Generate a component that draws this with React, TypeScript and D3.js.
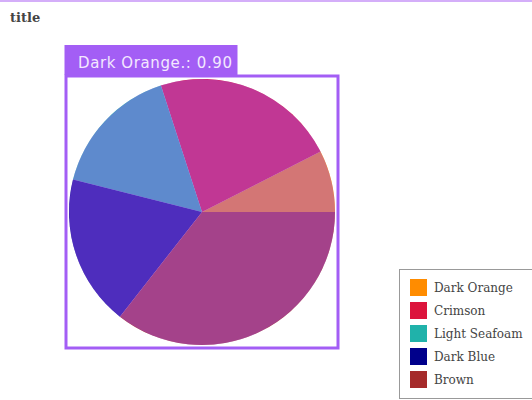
import React from 'react';
import * as d3 from 'd3';

// chart data
const categories = ['Dark Orange', 'Crimson', 'Light Seafoam', 'Dark Blue', 'Brown'];
const values = [0.9, 2.7, 1.93, 2.2, 4.27];
const colors = ['#ff8c00', '#dc143c', '#20b2aa', '#00008b', '#a52a2a'];
const hovered = 0;

const App = () => {
  const width = 532;
  const height = 400;

  // pie geometry
  const cx = 202;
  const cy = 212;
  const radius = 133;

  const data = categories.map((c, i) => ({ name: c, value: values[i], color: colors[i] }));

  // counter-clockwise from 3 o'clock
  const pie = d3.pie<any>()
    .value(d => d.value)
    .sort(null)
    .startAngle(Math.PI / 2)
    .endAngle(Math.PI / 2 - 2 * Math.PI);

  const arc = d3.arc<any>().innerRadius(0).outerRadius(radius);
  const arcs = pie(data);

  const highlight = '#a35ef5';
  const pad = 3;
  const label = `${categories[hovered]}.: ${values[hovered].toFixed(2)}`;

  const legendX = 399;
  const legendY = 269;
  const rowH = 23;

  return (
    <svg
      width={width}
      height={height}
      style={{ position: 'absolute', left: 0, top: 0, background: 'white' }}
    >
      <rect x={0} y={0} width={width} height={2} fill='#d4aef9'/>
      <text x={10} y={22} fontFamily='DejaVu Serif' fontWeight='bold' fontSize={13} fill='#444'>title</text>

      <g transform={`translate(${cx}, ${cy})`}>
        {arcs.map((a, i) => (
          <path key={i} d={arc(a) as string} fill={a.data.color}/>
        ))}
        <circle r={radius} fill={highlight} fillOpacity={0.48}/>
      </g>

      <rect
        x={cx - radius - pad}
        y={cy - radius - pad}
        width={2 * (radius + pad)}
        height={2 * (radius + pad)}
        fill='none'
        stroke={highlight}
        strokeWidth={3}
      />
      <rect x={cx - radius - pad - 1.5} y={45} width={173} height={cy - radius - pad - 46} fill={highlight}/>
      <text
        x={cx - radius + 9}
        y={68}
        fontFamily='DejaVu Sans'
        fontSize={15}
        letterSpacing={0.6}
        fill='#f3e8ff'
      >{label}</text>

      <rect x={legendX + 0.5} y={legendY + 0.5} width={140} height={129} fill='white' stroke='#999'/>
      {categories.map((c, i) => (
        <g key={c} transform={`translate(${legendX + 11}, ${legendY + 10 + i * rowH})`}>
          <rect width={17} height={17} fill={colors[i]}/>
          <text x={24} y={13} fontFamily='DejaVu Serif' fontSize={12} fill='#444'>{c}</text>
        </g>
      ))}
    </svg>
  );
};

export default App;
